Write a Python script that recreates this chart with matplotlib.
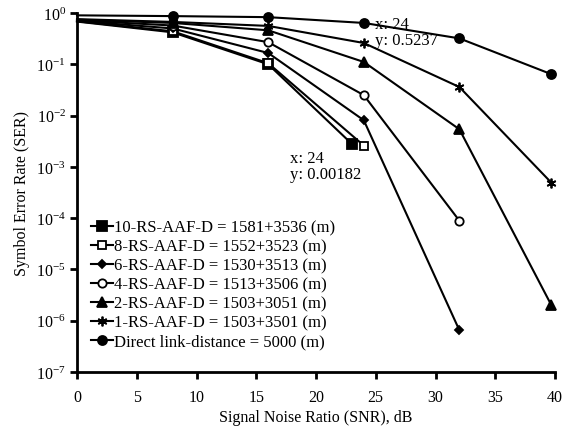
import matplotlib
matplotlib.use("Agg")
import matplotlib.pyplot as plt
from matplotlib.lines import Line2D
import numpy as np

plt.rcParams['font.family'] = ['Liberation Serif', 'DejaVu Serif']
plt.rcParams['mathtext.fontset'] = 'custom'
plt.rcParams['mathtext.rm'] = 'Liberation Serif'
plt.rcParams['mathtext.it'] = 'Liberation Serif:italic'

labels = [
    "10-RS-AAF-D = 1581+3536 (m)",
    "8-RS-AAF-D = 1552+3523 (m)",
    "6-RS-AAF-D = 1530+3513 (m)",
    "4-RS-AAF-D = 1513+3506 (m)",
    "2-RS-AAF-D = 1503+3051 (m)",
    "1-RS-AAF-D = 1503+3501 (m)",
    "Direct link-distance = 5000 (m)",
]

x_rs10 = [0, 8, 16, 23]
y_rs10 = [0.68, 0.42, 0.10, 2.8e-3]
x_rs8 = [0, 8, 16, 24]
y_rs8 = [0.69, 0.44, 0.105, 2.6e-3]
x_rs6 = [0, 8, 16, 24, 32]
y_rs6 = [0.70, 0.50, 0.166, 8.1e-3, 6.5e-7]
x_rs4 = [0, 8, 16, 24, 32]
y_rs4 = [0.72, 0.57, 0.27, 0.025, 8.9e-5]
x_rs2 = [0, 8, 16, 24, 32, 39.7]
y_rs2 = [0.74, 0.64, 0.46, 0.111, 5.4e-3, 2.0e-6]
x_rs1 = [0, 8, 16, 24, 32, 39.7]
y_rs1 = [0.76, 0.67, 0.56, 0.26, 0.036, 4.9e-4]
x_dir = [0, 8, 16, 24, 32, 39.7]
y_dir = [0.90, 0.87, 0.83, 0.64, 0.32, 0.064]

xs = [x_rs10, x_rs8, x_rs6, x_rs4, x_rs2, x_rs1, x_dir]
ys = [y_rs10, y_rs8, y_rs6, y_rs4, y_rs2, y_rs1, y_dir]

markers = ['s', 's', 'D', 'o', '^', (6, 2, 0), 'o']
faces = ['black', 'white', 'black', 'white', 'black', 'black', 'black']
msizes = [7, 6, 4.5, 6, 6.5, 7, 6.5]

xticks = [0, 5, 10, 15, 20, 25, 30, 35, 40]
yexps = [0, -1, -2, -3, -4, -5, -6, -7]

fig = plt.figure(figsize=(5.62, 4.27), dpi=100)
ax = fig.add_axes([77/562, 1 - 373/427, (555-77)/562, (373-14)/427])

handles = []
for xv, yv, lab, m, fc, ms in zip(xs, ys, labels, markers, faces, msizes):
    ax.plot(xv, yv, color='black', lw=1.5, marker=m, markersize=ms,
            markerfacecolor=fc, markeredgecolor='black', markeredgewidth=1.3,
            markevery=list(range(1, len(xv))), clip_on=False)
    handles.append(Line2D([], [], color='black', lw=1.5, marker=m, markersize=ms,
                          markerfacecolor=fc, markeredgecolor='black',
                          markeredgewidth=1.3, label=lab))

ax.set_yscale('log')
ax.set_xlim(0, 40)
ax.set_ylim(1e-7, 1)
ax.set_xticks(xticks)
ax.set_xticklabels([str(t) for t in xticks])
ax.set_yticks([10.0**e for e in yexps])
ax.set_yticklabels([r'$10^{%d}$' % e for e in yexps])
ax.minorticks_off()
ax.tick_params(axis='both', direction='out', length=5, width=2, labelsize=11.5)
ax.tick_params(axis='x', pad=7)
ax.tick_params(axis='y', pad=3)
for s in ['top', 'right']:
    ax.spines[s].set_visible(False)
for s in ['left', 'bottom']:
    ax.spines[s].set_linewidth(2)

ax.set_xlabel('Signal Noise Ratio (SNR), dB', fontsize=11.5, labelpad=3)
ax.set_ylabel('Symbol Error Rate (SER)', fontsize=11.5, labelpad=4)

ax.text(24.9, 10**-0.05, 'x: 24\ny: 0.5237', fontsize=12, va='top', ha='left',
        linespacing=1.0)
ax.text(17.8, 10**-2.68, 'x: 24\ny: 0.00182', fontsize=12, va='top', ha='left',
        linespacing=1.0)

leg = ax.legend(handles=handles, loc='lower left', bbox_to_anchor=(0.03, 0.062),
                frameon=False, fontsize=12, handlelength=1.3, handletextpad=0.05,
                labelspacing=0.18, borderaxespad=0, borderpad=0)

fig.savefig('out.png', dpi=100)
